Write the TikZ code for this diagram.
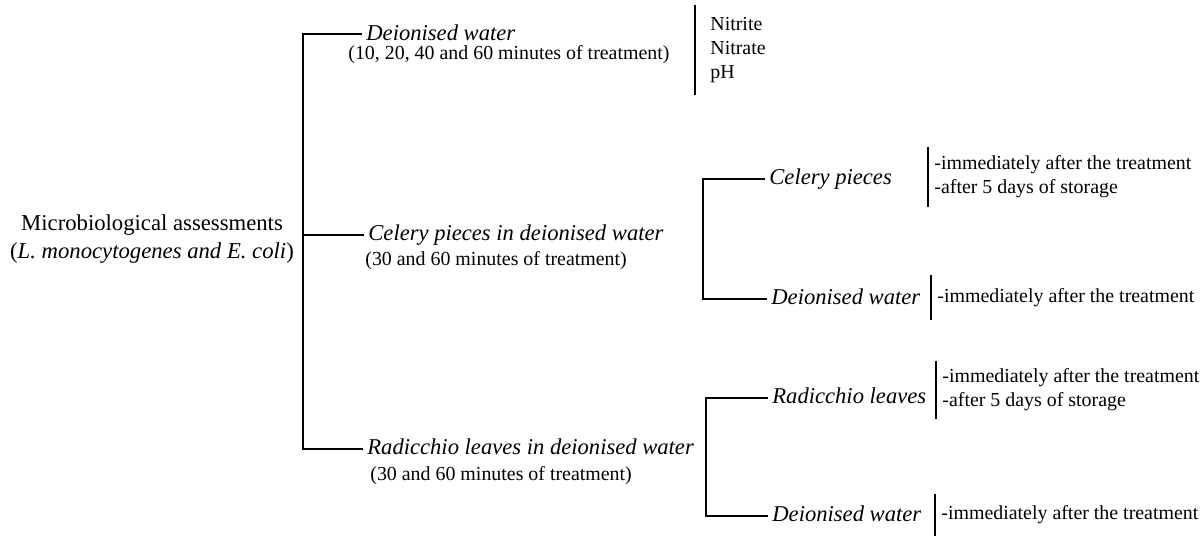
\documentclass[tikz,border=0pt]{standalone}
\usepackage{fontspec}
\setmainfont{Liberation Serif}
\usepackage{tikz}

\begin{document}
\begin{tikzpicture}[x=0.5pt, y=-0.5pt,
  branch/.style={line width=0.75pt},
  bar/.style={line width=0.9pt},
  lbl/.style={font=\fontsize{11.3}{13.6}\selectfont\itshape, anchor=west, inner xsep=2pt, inner ysep=0pt, text height=7.9pt, text depth=2.3pt},
  tsub/.style={font=\fontsize{9.95}{12}\selectfont, anchor=west, inner sep=0pt},
  res/.style={font=\fontsize{9.95}{12}\selectfont, anchor=west, align=left, inner xsep=3pt, inner ysep=0pt}]
  \useasboundingbox (0,0) rectangle (1202,536);
  \node[align=center, font=\fontsize{11.35}{14}\selectfont] (root) at (152,239) {Microbiological assessments\\(\textit{L. monocytogenes and E. coli})};
  \node[lbl, text depth=1pt] (dw) at (362,34) {Deionised water};
  \node[tsub] (dwt) at (348,55) {(10, 20, 40 and 60 minutes of treatment)};
  \node[lbl] (cw) at (364,235) {Celery pieces in deionised water};
  \node[tsub] (cwt) at (365,261) {(30 and 60 minutes of treatment)};
  \node[lbl] (rw) at (363,449) {Radicchio leaves in deionised water};
  \node[tsub] (rwt) at (370,476) {(30 and 60 minutes of treatment)};
  \coordinate (tk) at (303,235);
  \draw[branch] (dw.west) -| (tk) |- (rw.west);
  \draw[branch] (tk) -- (cw.west);
  \node[res, inner xsep=7.5pt, minimum height=45pt] (chem) at (695,50) {Nitrite\\Nitrate\\pH};
  \draw[bar] (chem.north west) -- (chem.south west);
  \node[lbl] (cp) at (765,179) {Celery pieces};
  \node[lbl] (cd) at (767,299) {Deionised water};
  \coordinate (k1) at (703,239);
  \draw[branch] (cp.west) -| (k1) |- (cd.west);
  \node[res, minimum height=30pt] (cpr) at (928,177) {-immediately after the treatment\\-after 5 days of storage};
  \draw[bar] (cpr.north west) -- (cpr.south west);
  \node[res, minimum height=22.5pt] (cdr) at (931,297.5) {-immediately after the treatment};
  \draw[bar] (cdr.north west) -- (cdr.south west);
  \node[lbl] (rp) at (768,398) {Radicchio leaves};
  \node[lbl] (rd) at (768,516) {Deionised water};
  \coordinate (k2) at (706,457);
  \draw[branch] (rp.west) -| (k2) |- (rd.west);
  \node[res, minimum height=29pt] (rpr) at (936,390) {-immediately after the treatment\\-after 5 days of storage};
  \draw[bar] (rpr.north west) -- (rpr.south west);
  \node[res, minimum height=21pt] (rdr) at (935,515) {-immediately after the treatment};
  \draw[bar] (rdr.north west) -- (rdr.south west);
\end{tikzpicture}
\end{document}
